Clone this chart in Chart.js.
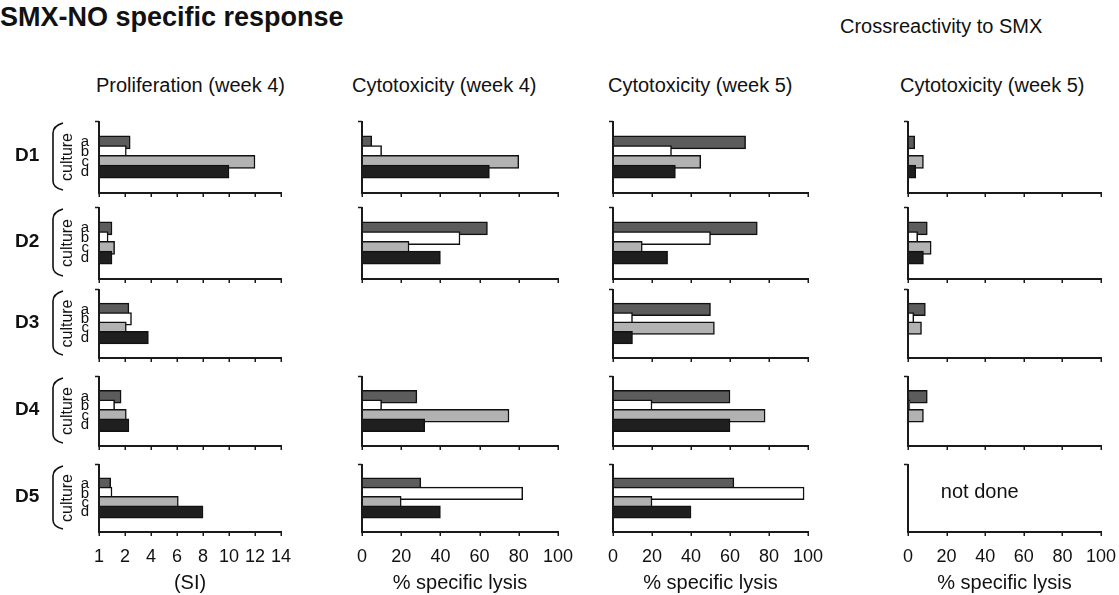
<!DOCTYPE html>
<html>
<head>
<meta charset="utf-8">
<script src="https://cdn.jsdelivr.net/npm/chart.js@4.4.1/dist/chart.umd.min.js"></script>
<style>
  body { margin: 0; width: 1119px; height: 595px; position: relative; overflow: hidden; background: #fff;
         font-family: "Liberation Sans", Arial, Helvetica, sans-serif; color: #111; }
  .txt { position: absolute; white-space: nowrap; }
  .panel { position: absolute; }
</style>
</head>
<body>
<div class="txt" style="left:0px;top:4px;font-size:27px;line-height:27px;font-weight:bold">SMX-NO specific response</div>
<div class="txt" style="left:840px;top:16px;font-size:20px;line-height:20px">Crossreactivity to SMX</div>
<div class="txt" style="left:96px;top:75px;font-size:20px;line-height:20px">Proliferation (week 4)</div>
<div class="txt" style="left:352px;top:75px;font-size:20px;line-height:20px">Cytotoxicity (week 4)</div>
<div class="txt" style="left:608px;top:75px;font-size:20px;line-height:20px">Cytotoxicity (week 5)</div>
<div class="txt" style="left:900px;top:75px;font-size:20px;line-height:20px">Cytotoxicity (week 5)</div>

<script>
// donors (rows) and cultures (bars inside each panel)
var donors = ['D1', 'D2', 'D3', 'D4', 'D5'];
var cultures = ['a', 'b', 'c', 'd'];
var cultureColors = ['#5c5c5c', '#ffffff', '#b2b2b2', '#1f1f1f'];

// stimulation index, proliferation week 4 (per donor: culture a..d)
var prolifWeek4 = [
    [2.4, 2.1, 12.0, 10.0],
    [1.0, 0.7, 1.2, 1.0],
    [2.3, 2.5, 2.1, 3.8],
    [1.7, 1.2, 2.1, 2.3],
    [0.9, 1.0, 6.1, 8.0]
];
// % specific lysis, cytotoxicity week 4 (D3 not shown)
var lysisWeek4 = [
    [5, 10, 80, 65],
    [64, 50, 24, 40],
    null,
    [28, 10, 75, 32],
    [30, 82, 20, 40]
];
// % specific lysis, cytotoxicity week 5
var lysisWeek5 = [
    [68, 30, 45, 32],
    [74, 50, 15, 28],
    [50, 10, 52, 10],
    [60, 20, 78, 60],
    [62, 98, 20, 40]
];
// crossreactivity to SMX, week 5 (D5 not done)
var crossWeek5 = [
    [3.5, 0, 8, 4],
    [10, 5, 12, 8],
    [9, 3, 7, 0],
    [10, 1, 8, 0],
    null
];

var siTicks = [0, 2, 4, 6, 8, 10, 12, 14];
var siTickLabels = ['1', '2', '4', '6', '8', '10', '12', '14'];
var lysisTicks = [0, 20, 40, 60, 80, 100];
var lysisTickLabels = ['0', '20', '40', '60', '80', '100'];

Chart.defaults.font.family = "'Liberation Sans', Arial, Helvetica, sans-serif";
Chart.defaults.color = '#111';
Chart.defaults.animation = false;

var columns = [
    { data: prolifWeek4, max: 14, ticks: siTicks, tickLabels: siTickLabels, axisTitle: '(SI)', x0: 99, x1: 281, missing: null },
    { data: lysisWeek4, max: 100, ticks: lysisTicks, tickLabels: lysisTickLabels, axisTitle: '% specific lysis', x0: 362, x1: 558, missing: null },
    { data: lysisWeek5, max: 100, ticks: lysisTicks, tickLabels: lysisTickLabels, axisTitle: '% specific lysis', x0: 613, x1: 808, missing: null },
    { data: crossWeek5, max: 100, ticks: lysisTicks, tickLabels: lysisTickLabels, axisTitle: '% specific lysis', x0: 908, x1: 1101, missing: 'not done' }
];

// pixel rows of each donor panel (axis top / x axis line)
var rowTop = [121, 207, 289, 376, 464];
var rowBottom = [193, 279, 358, 446, 532];
var yMin = -1.25, yMax = 4.25;
var axisColor = '#1a1a1a';

// axis lines + tick marks, donor label, bracket and "not done" note
var panelDecor = {
    id: 'panelDecor',
    afterDraw: function(chart, args, opts) {
        var ctx = chart.ctx, a = chart.chartArea, xs = chart.scales.x;
        ctx.save();
        ctx.strokeStyle = axisColor;
        ctx.lineWidth = 2;
        ctx.beginPath();
        ctx.moveTo(a.left, a.top);
        ctx.lineTo(a.left, a.bottom + 1);
        ctx.moveTo(a.left - 1, a.bottom);
        ctx.lineTo(a.right + 1, a.bottom);
        ctx.stroke();
        ctx.lineWidth = 1.5;
        ctx.beginPath();
        ctx.moveTo(a.left - 4, a.top + 0.5);
        ctx.lineTo(a.left, a.top + 0.5);
        opts.ticks.forEach(function(v) {
            var px = Math.round(xs.getPixelForValue(v)) + 0.25;
            ctx.moveTo(px, a.bottom);
            ctx.lineTo(px, a.bottom + 4);
        });
        ctx.stroke();
        ctx.fillStyle = '#111';
        ctx.strokeStyle = '#111';
        if (opts.donor) {
            ctx.font = "bold 19px 'Liberation Sans', Arial, sans-serif";
            ctx.textBaseline = 'middle';
            ctx.fillText(opts.donor, 15, (a.top + a.bottom) / 2 - 1);
            ctx.lineWidth = 1.6;
            ctx.beginPath();
            ctx.moveTo(63, a.top + 2);
            ctx.quadraticCurveTo(53, a.top + 5, 53, a.top + 12);
            ctx.lineTo(53, a.bottom - 12);
            ctx.quadraticCurveTo(53, a.bottom - 5, 63, a.bottom - 3);
            ctx.stroke();
        }
        if (opts.note) {
            ctx.font = "20px 'Liberation Sans', Arial, sans-serif";
            ctx.textBaseline = 'alphabetic';
            ctx.fillText(opts.note, xs.getPixelForValue(17), (a.top + a.bottom) / 2);
        }
        ctx.restore();
    }
};

function makePanel(col, ci, ri) {
    var values = col.data[ri];
    if (!values && !col.missing) return;
    var first = ci === 0;
    var last = ri === donors.length - 1;
    var padL = first ? col.x0 : 20;
    var padT = 20, padR = 30;
    var padB = last ? 595 - rowBottom[ri] : 20;
    var plotH = rowBottom[ri] - rowTop[ri];

    var div = document.createElement('div');
    div.className = 'panel';
    div.style.left = (col.x0 - padL) + 'px';
    div.style.top = (rowTop[ri] - padT) + 'px';
    div.style.width = (padL + col.x1 - col.x0 + padR) + 'px';
    div.style.height = (padT + plotH + padB) + 'px';
    var cv = document.createElement('canvas');
    div.appendChild(cv);
    document.body.appendChild(div);

    new Chart(cv, {
        type: 'bar',
        data: {
            datasets: [{
                data: values ? values.map(function(v, i) { return { x: v, y: i }; }) : [],
                backgroundColor: cultureColors,
                borderColor: '#111',
                borderWidth: 1.5,
                barThickness: plotH / (yMax - yMin)
            }]
        },
        options: {
            indexAxis: 'y',
            responsive: true,
            maintainAspectRatio: false,
            layout: { padding: { top: padT, right: padR, left: 0, bottom: 0 } },
            plugins: {
                legend: { display: false },
                tooltip: { enabled: false },
                panelDecor: { donor: first ? donors[ri] : null, note: values ? null : col.missing, ticks: col.ticks }
            },
            scales: {
                x: {
                    type: 'linear',
                    min: 0,
                    max: col.max,
                    afterBuildTicks: function(s) { s.ticks = col.ticks.map(function(v) { return { value: v }; }); },
                    afterFit: function(s) { s.height = padB; },
                    ticks: {
                        display: last,
                        autoSkip: false,
                        maxRotation: 0,
                        minRotation: 0,
                        padding: 10,
                        font: { size: 18 },
                        callback: function(v, i) { return col.tickLabels[i]; }
                    },
                    grid: { display: false, drawTicks: true, tickLength: 4 },
                    border: { display: false },
                    title: { display: last, text: col.axisTitle, font: { size: 20 }, padding: { top: 0, bottom: 0 } }
                },
                y: {
                    type: 'linear',
                    reverse: true,
                    min: yMin,
                    max: yMax,
                    afterBuildTicks: function(s) { s.ticks = [0, 1, 2, 3].map(function(v) { return { value: v }; }); },
                    afterFit: function(s) { s.width = padL; },
                    ticks: {
                        display: first,
                        autoSkip: false,
                        padding: 10,
                        font: { size: 15 },
                        callback: function(v) { return cultures[v]; }
                    },
                    grid: { display: false, drawTicks: false },
                    border: { display: false },
                    title: { display: first, text: 'culture', font: { size: 16 }, padding: { top: 58, bottom: 0 } }
                }
            }
        },
        plugins: [panelDecor]
    });
}

columns.forEach(function(col, ci) {
    donors.forEach(function(d, ri) { makePanel(col, ci, ri); });
});
</script>
</body>
</html>
